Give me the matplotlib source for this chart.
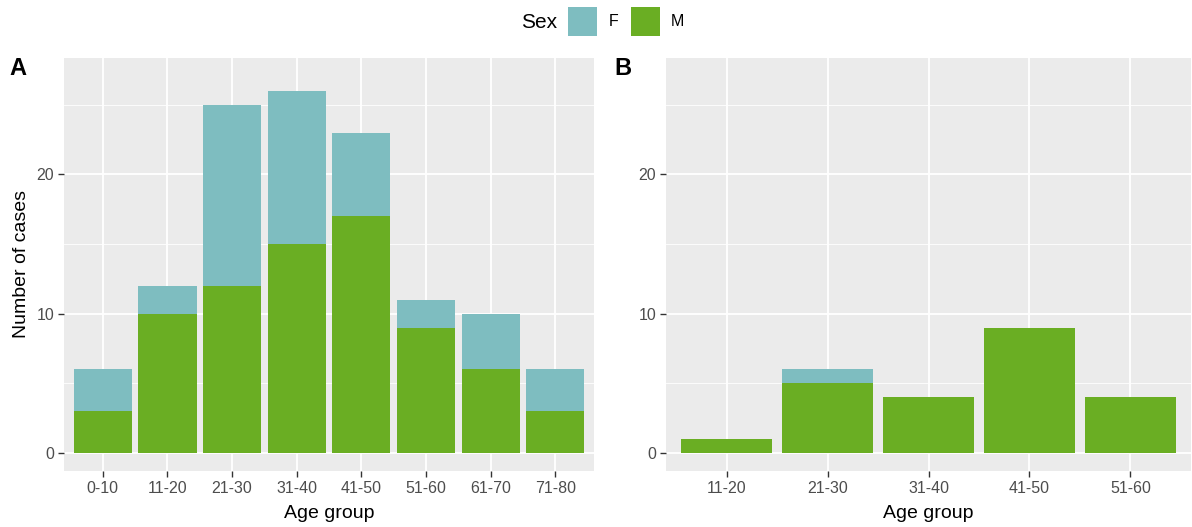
import matplotlib
matplotlib.use("Agg")
import matplotlib.pyplot as plt
from matplotlib.patches import Rectangle
import numpy as np

plt.rcParams['font.family'] = ['Liberation Sans', 'DejaVu Sans']

# Data
groups_a = ["0-10", "11-20", "21-30", "31-40", "41-50", "51-60", "61-70", "71-80"]
male_a = [3, 10, 12, 15, 17, 9, 6, 3]
female_a = [3, 2, 13, 11, 6, 2, 4, 3]

groups_b = ["11-20", "21-30", "31-40", "41-50", "51-60"]
male_b = [1, 5, 4, 9, 4]
female_b = [0, 1, 0, 0, 0]

col_f = "#7EBDC0"
col_m = "#6AAE23"
bg = "#EBEBEB"

fig = plt.figure(figsize=(11.92, 5.27), dpi=100)
W, H = 1192, 527

def ax_rect(l, t, r, b):
    return [l / W, 1 - b / H, (r - l) / W, (b - t) / H]

axA = fig.add_axes(ax_rect(64, 58, 594, 471))
axB = fig.add_axes(ax_rect(666, 58, 1191, 471))

def style(ax, groups, male, female):
    x = np.arange(len(groups))
    ax.set_facecolor(bg)
    ax.bar(x, male, width=0.9, color=col_m, zorder=3, linewidth=0)
    ax.bar(x, female, width=0.9, bottom=male, color=col_f, zorder=3, linewidth=0)
    ax.set_xlim(-0.6, len(groups) - 0.4)
    ax.set_ylim(-1.3, 28.35)
    ax.set_xticks(x)
    ax.set_xticklabels(groups)
    ax.set_yticks([0, 10, 20])
    ax.set_yticks([5, 15, 25], minor=True)
    ax.grid(True, which='major', color='white', linewidth=1.3, zorder=0)
    ax.grid(True, which='minor', axis='y', color='white', linewidth=0.6, zorder=0)
    ax.set_axisbelow(True)
    for s in ax.spines.values():
        s.set_visible(False)
    ax.tick_params(axis='both', which='major', length=4, width=1.0, color='#333333',
                   labelcolor='#4D4D4D', labelsize=11.5, pad=3)
    ax.tick_params(axis='y', which='minor', length=0)
    ax.set_xlabel("Age group", fontsize=14, color='black', labelpad=6.5)

style(axA, groups_a, male_a, female_a)
style(axB, groups_b, male_b, female_b)
axA.set_ylabel("Number of cases", fontsize=14, color='black', labelpad=5)

fig.text(9 / W, 1 - 68.5 / H, "A", fontsize=17, fontweight='bold', va='center', ha='left')
fig.text(614 / W, 1 - 68.5 / H, "B", fontsize=17, fontweight='bold', va='center', ha='left')

# Legend
fig.text(521 / W, 1 - 22 / H, "Sex", fontsize=15, va='center', ha='left')
fig.patches.append(Rectangle((568 / W, 1 - 36 / H), 29 / W, 29 / H, transform=fig.transFigure,
                             facecolor=col_f, edgecolor='none', figure=fig))
fig.text(609 / W, 1 - 22 / H, "F", fontsize=11.5, va='center', ha='left')
fig.patches.append(Rectangle((631 / W, 1 - 36 / H), 29 / W, 29 / H, transform=fig.transFigure,
                             facecolor=col_m, edgecolor='none', figure=fig))
fig.text(671 / W, 1 - 22 / H, "M", fontsize=11.5, va='center', ha='left')

fig.savefig("out.png", dpi=100, facecolor='white')
